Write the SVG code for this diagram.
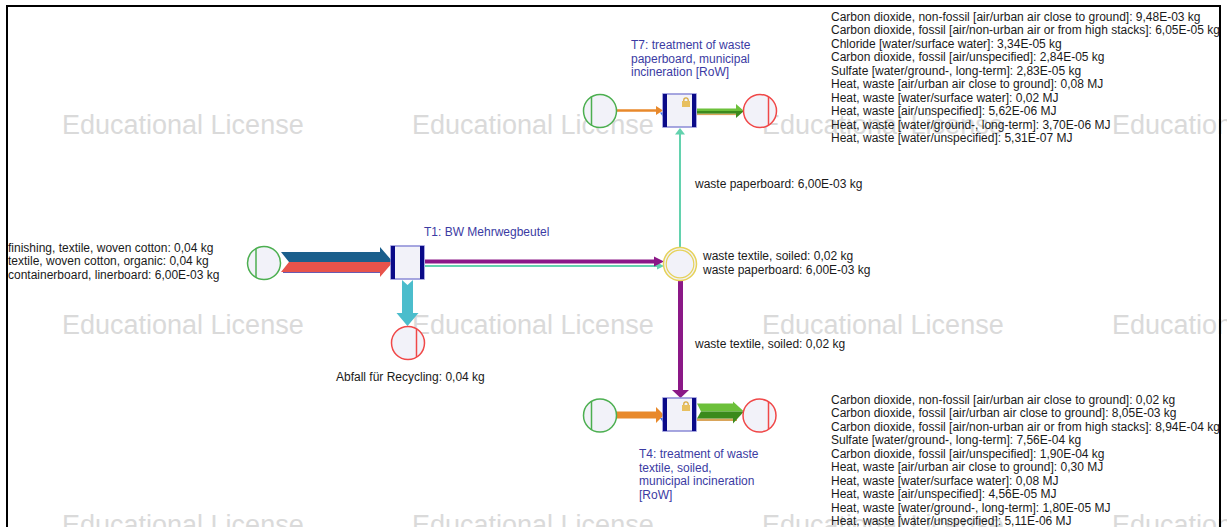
<svg xmlns="http://www.w3.org/2000/svg" width="1227" height="527" viewBox="0 0 1227 527">
  <defs>
    <style>
      .bg { fill: #ffffff; }
      .frame { fill: none; stroke: #000000; stroke-width: 2; }
      .wm { font-family: "Liberation Sans", Arial, sans-serif; font-size: 27px; fill: #dadada; }
      .txt { font-family: "Liberation Sans", Arial, sans-serif; font-size: 12px; fill: #1a1a1a; }
      .plabel { font-family: "Liberation Sans", Arial, sans-serif; font-size: 12px; fill: #3b3ba3; }
      .circ { fill: #f2f2f9; stroke-width: 1.5; }
      .src { stroke: #4caf50; }
      .snk { stroke: #f04848; }
      .srcbar { stroke: #4caf50; stroke-width: 1.5; }
      .snkbar { stroke: #f04848; stroke-width: 1.5; }
      .box { fill: #f2f2f9; stroke: #8a8ad6; stroke-width: 1.5; }
      .bar { fill: #0a0a88; }
      .lock { fill: #e8c060; }
      .lockarc { fill: none; stroke: #d8aa40; stroke-width: 1.3; }
    </style>
  </defs>

  <rect class="bg" x="0" y="0" width="1227" height="527"/>

  <!-- license watermark grid -->
  <g id="watermark">
    <text class="wm" x="62" y="134">Educational License</text>
    <text class="wm" x="412" y="134">Educational License</text>
    <text class="wm" x="762" y="134">Educational License</text>
    <text class="wm" x="1112" y="134">Educational License</text>
    <text class="wm" x="62" y="334">Educational License</text>
    <text class="wm" x="412" y="334">Educational License</text>
    <text class="wm" x="762" y="334">Educational License</text>
    <text class="wm" x="1112" y="334">Educational License</text>
    <text class="wm" x="62" y="534">Educational License</text>
    <text class="wm" x="412" y="534">Educational License</text>
    <text class="wm" x="762" y="534">Educational License</text>
    <text class="wm" x="1112" y="534">Educational License</text>
  </g>

  <rect class="frame" x="7" y="6" width="1213" height="560"/>

  <!-- flows -->
  <g id="connectors">
    <!-- inputs into T1 (two stacked bands) -->
    <polygon points="281,252 380,252 380,247 393,262 289,262" fill="#1b5f8c"/>
    <polygon points="289,262 393,262 380,277 380,272 281,272" fill="#e8534b"/>
    <line x1="283" y1="272.5" x2="380" y2="272.5" stroke="#6a5ab0" stroke-width="1"/>

    <!-- T1 -> waste for recycling -->
    <polygon points="402,280 407.5,285 413,280 413,313 418.5,313 407.5,326 396.5,313 402,313" fill="#4bbdcc"/>

    <!-- T1 -> junction -->
    <line x1="425" y1="266" x2="658" y2="266" stroke="#63d2ae" stroke-width="2"/>
    <polygon points="657,262.5 664,266 657,269.5" fill="#63d2ae"/>
    <line x1="425" y1="261.5" x2="655" y2="261.5" stroke="#8b1887" stroke-width="4"/>
    <polygon points="654,256.5 664,261.5 654,266.5" fill="#8b1887"/>

    <!-- junction -> T7 -->
    <line x1="680" y1="248" x2="680" y2="134" stroke="#63d2ae" stroke-width="2"/>
    <polygon points="675,134.5 685,134.5 680,128" fill="#63d2ae"/>

    <!-- junction -> T4 -->
    <line x1="680.5" y1="281" x2="680.5" y2="391" stroke="#8b1887" stroke-width="5"/>
    <polygon points="672,390 689,390 680.5,398" fill="#8b1887"/>

    <!-- T7 input -->
    <line x1="616" y1="110.5" x2="657" y2="110.5" stroke="#e8892b" stroke-width="2.5"/>
    <polygon points="656,106 663,110.5 656,115" fill="#e8892b"/>
    <polygon points="660,112.5 663,112.5 663,117" fill="#3a6ee8"/>

    <!-- T7 output -->
    <rect x="697" y="113.5" width="40" height="1.6" fill="#d9a55a"/>
    <rect x="697" y="108.5" width="40" height="2.6" fill="#6cc03a"/>
    <rect x="697" y="111" width="40" height="2.6" fill="#3b8a1c"/>
    <polygon points="736,104 744,111 736,111" fill="#6cc03a"/>
    <polygon points="736,111 744,111 736,118" fill="#3b8a1c"/>

    <!-- T4 input -->
    <rect x="616" y="411.5" width="42" height="7" fill="#e8892b"/>
    <polygon points="656,407 664,415 656,423" fill="#e8892b"/>
    <polygon points="660,418 663,418 663,422.5" fill="#3a6ee8"/>

    <!-- T4 output -->
    <rect x="697" y="418.5" width="40" height="2.5" fill="#d9a55a"/>
    <polygon points="697,403.5 733,403.5 733,411.5 701,411.5" fill="#6cc03a"/>
    <polygon points="701,411.5 733,411.5 733,418.5 697,418.5" fill="#3b8a1c"/>
    <polygon points="733,401.5 744,411.5 733,411.5" fill="#6cc03a"/>
    <polygon points="733,411.5 744,411.5 733,423.5" fill="#3b8a1c"/>
  </g>

  <!-- input flows into T1 -->
  <g id="src-t1">
    <circle class="circ src" cx="264" cy="263" r="16.5"/>
    <line class="srcbar" x1="256" y1="248.6" x2="256" y2="277.4"/>
    <text class="txt" x="8" y="251.5">finishing, textile, woven cotton: 0,04 kg</text>
    <text class="txt" x="8" y="265">textile, woven cotton, organic: 0,04 kg</text>
    <text class="txt" x="8" y="278.5">containerboard, linerboard: 6,00E-03 kg</text>
  </g>

  <g id="t1">
    <rect class="box" x="391" y="246" width="33" height="33"/>
    <rect class="bar" x="391" y="246" width="4" height="33"/>
    <rect class="bar" x="420" y="246" width="4" height="33"/>
    <text class="plabel" x="424" y="236">T1: BW Mehrwegbeutel</text>
  </g>

  <g id="snk-recycling">
    <circle class="circ snk" cx="408" cy="343" r="16.5"/>
    <line class="snkbar" x1="416.5" y1="328.9" x2="416.5" y2="357.1"/>
    <text class="txt" x="336" y="381">Abfall für Recycling: 0,04 kg</text>
  </g>

  <g id="junction">
    <circle cx="680" cy="264" r="16.5" fill="#f2f2f9" stroke="#e6d25a" stroke-width="1.5"/>
    <circle cx="680" cy="264" r="13.8" fill="none" stroke="#e6d25a" stroke-width="1.2"/>
    <text class="txt" x="703" y="260">waste textile, soiled: 0,02 kg</text>
    <text class="txt" x="703" y="273.5">waste paperboard: 6,00E-03 kg</text>
  </g>

  <g id="flow-labels">
    <text class="txt" x="695" y="188">waste paperboard: 6,00E-03 kg</text>
    <text class="txt" x="695" y="348">waste textile, soiled: 0,02 kg</text>
  </g>

  <g id="src-t7">
    <circle class="circ src" cx="600" cy="111" r="16.5"/>
    <line class="srcbar" x1="591.5" y1="96.4" x2="591.5" y2="125.6"/>
  </g>

  <g id="t7">
    <rect class="box" x="663" y="94" width="33" height="33"/>
    <rect class="bar" x="663" y="94" width="4" height="33"/>
    <rect class="bar" x="692" y="94" width="4" height="33"/>
    <path class="lockarc" d="M683.8,101.5 v-1.5 a2.2,2.2 0 0 1 4.4,0 v1.5"/>
    <rect class="lock" x="682" y="101" width="8" height="6"/>
    <text class="plabel" x="631" y="49">T7: treatment of waste</text>
    <text class="plabel" x="631" y="62.7">paperboard, municipal</text>
    <text class="plabel" x="631" y="76.4">incineration [RoW]</text>
  </g>

  <g id="snk-t7">
    <circle class="circ snk" cx="760" cy="111" r="16.5"/>
    <line class="snkbar" x1="768.5" y1="96.9" x2="768.5" y2="125.1"/>
    <text class="txt" x="831" y="20.5">Carbon dioxide, non-fossil [air/urban air close to ground]: 9,48E-03 kg</text>
    <text class="txt" x="831" y="34">Carbon dioxide, fossil [air/non-urban air or from high stacks]: 6,05E-05 kg</text>
    <text class="txt" x="831" y="47.5">Chloride [water/surface water]: 3,34E-05 kg</text>
    <text class="txt" x="831" y="61">Carbon dioxide, fossil [air/unspecified]: 2,84E-05 kg</text>
    <text class="txt" x="831" y="74.5">Sulfate [water/ground-, long-term]: 2,83E-05 kg</text>
    <text class="txt" x="831" y="88">Heat, waste [air/urban air close to ground]: 0,08 MJ</text>
    <text class="txt" x="831" y="101.5">Heat, waste [water/surface water]: 0,02 MJ</text>
    <text class="txt" x="831" y="115">Heat, waste [air/unspecified]: 5,62E-06 MJ</text>
    <text class="txt" x="831" y="128.5">Heat, waste [water/ground-, long-term]: 3,70E-06 MJ</text>
    <text class="txt" x="831" y="142">Heat, waste [water/unspecified]: 5,31E-07 MJ</text>
  </g>

  <g id="src-t4">
    <circle class="circ src" cx="600" cy="415.5" r="16.5"/>
    <line class="srcbar" x1="591.5" y1="400.9" x2="591.5" y2="430.1"/>
  </g>

  <g id="t4">
    <rect class="box" x="663" y="398" width="33" height="33"/>
    <rect class="bar" x="663" y="398" width="4" height="33"/>
    <rect class="bar" x="692" y="398" width="4" height="33"/>
    <path class="lockarc" d="M683.8,405.5 v-1.5 a2.2,2.2 0 0 1 4.4,0 v1.5"/>
    <rect class="lock" x="682" y="405" width="8" height="6"/>
    <text class="plabel" x="639" y="458">T4: treatment of waste</text>
    <text class="plabel" x="639" y="471.7">textile, soiled,</text>
    <text class="plabel" x="639" y="485.4">municipal incineration</text>
    <text class="plabel" x="639" y="499">[RoW]</text>
  </g>

  <g id="snk-t4">
    <circle class="circ snk" cx="759.5" cy="415.5" r="16.5"/>
    <line class="snkbar" x1="768.5" y1="401.9" x2="768.5" y2="429.1"/>
    <text class="txt" x="831" y="403.5">Carbon dioxide, non-fossil [air/urban air close to ground]: 0,02 kg</text>
    <text class="txt" x="831" y="417">Carbon dioxide, fossil [air/urban air close to ground]: 8,05E-03 kg</text>
    <text class="txt" x="831" y="430.5">Carbon dioxide, fossil [air/non-urban air or from high stacks]: 8,94E-04 kg</text>
    <text class="txt" x="831" y="444">Sulfate [water/ground-, long-term]: 7,56E-04 kg</text>
    <text class="txt" x="831" y="457.5">Carbon dioxide, fossil [air/unspecified]: 1,90E-04 kg</text>
    <text class="txt" x="831" y="471">Heat, waste [air/urban air close to ground]: 0,30 MJ</text>
    <text class="txt" x="831" y="484.5">Heat, waste [water/surface water]: 0,08 MJ</text>
    <text class="txt" x="831" y="498">Heat, waste [air/unspecified]: 4,56E-05 MJ</text>
    <text class="txt" x="831" y="511.5">Heat, waste [water/ground-, long-term]: 1,80E-05 MJ</text>
    <text class="txt" x="831" y="525">Heat, waste [water/unspecified]: 5,11E-06 MJ</text>
  </g>
</svg>
